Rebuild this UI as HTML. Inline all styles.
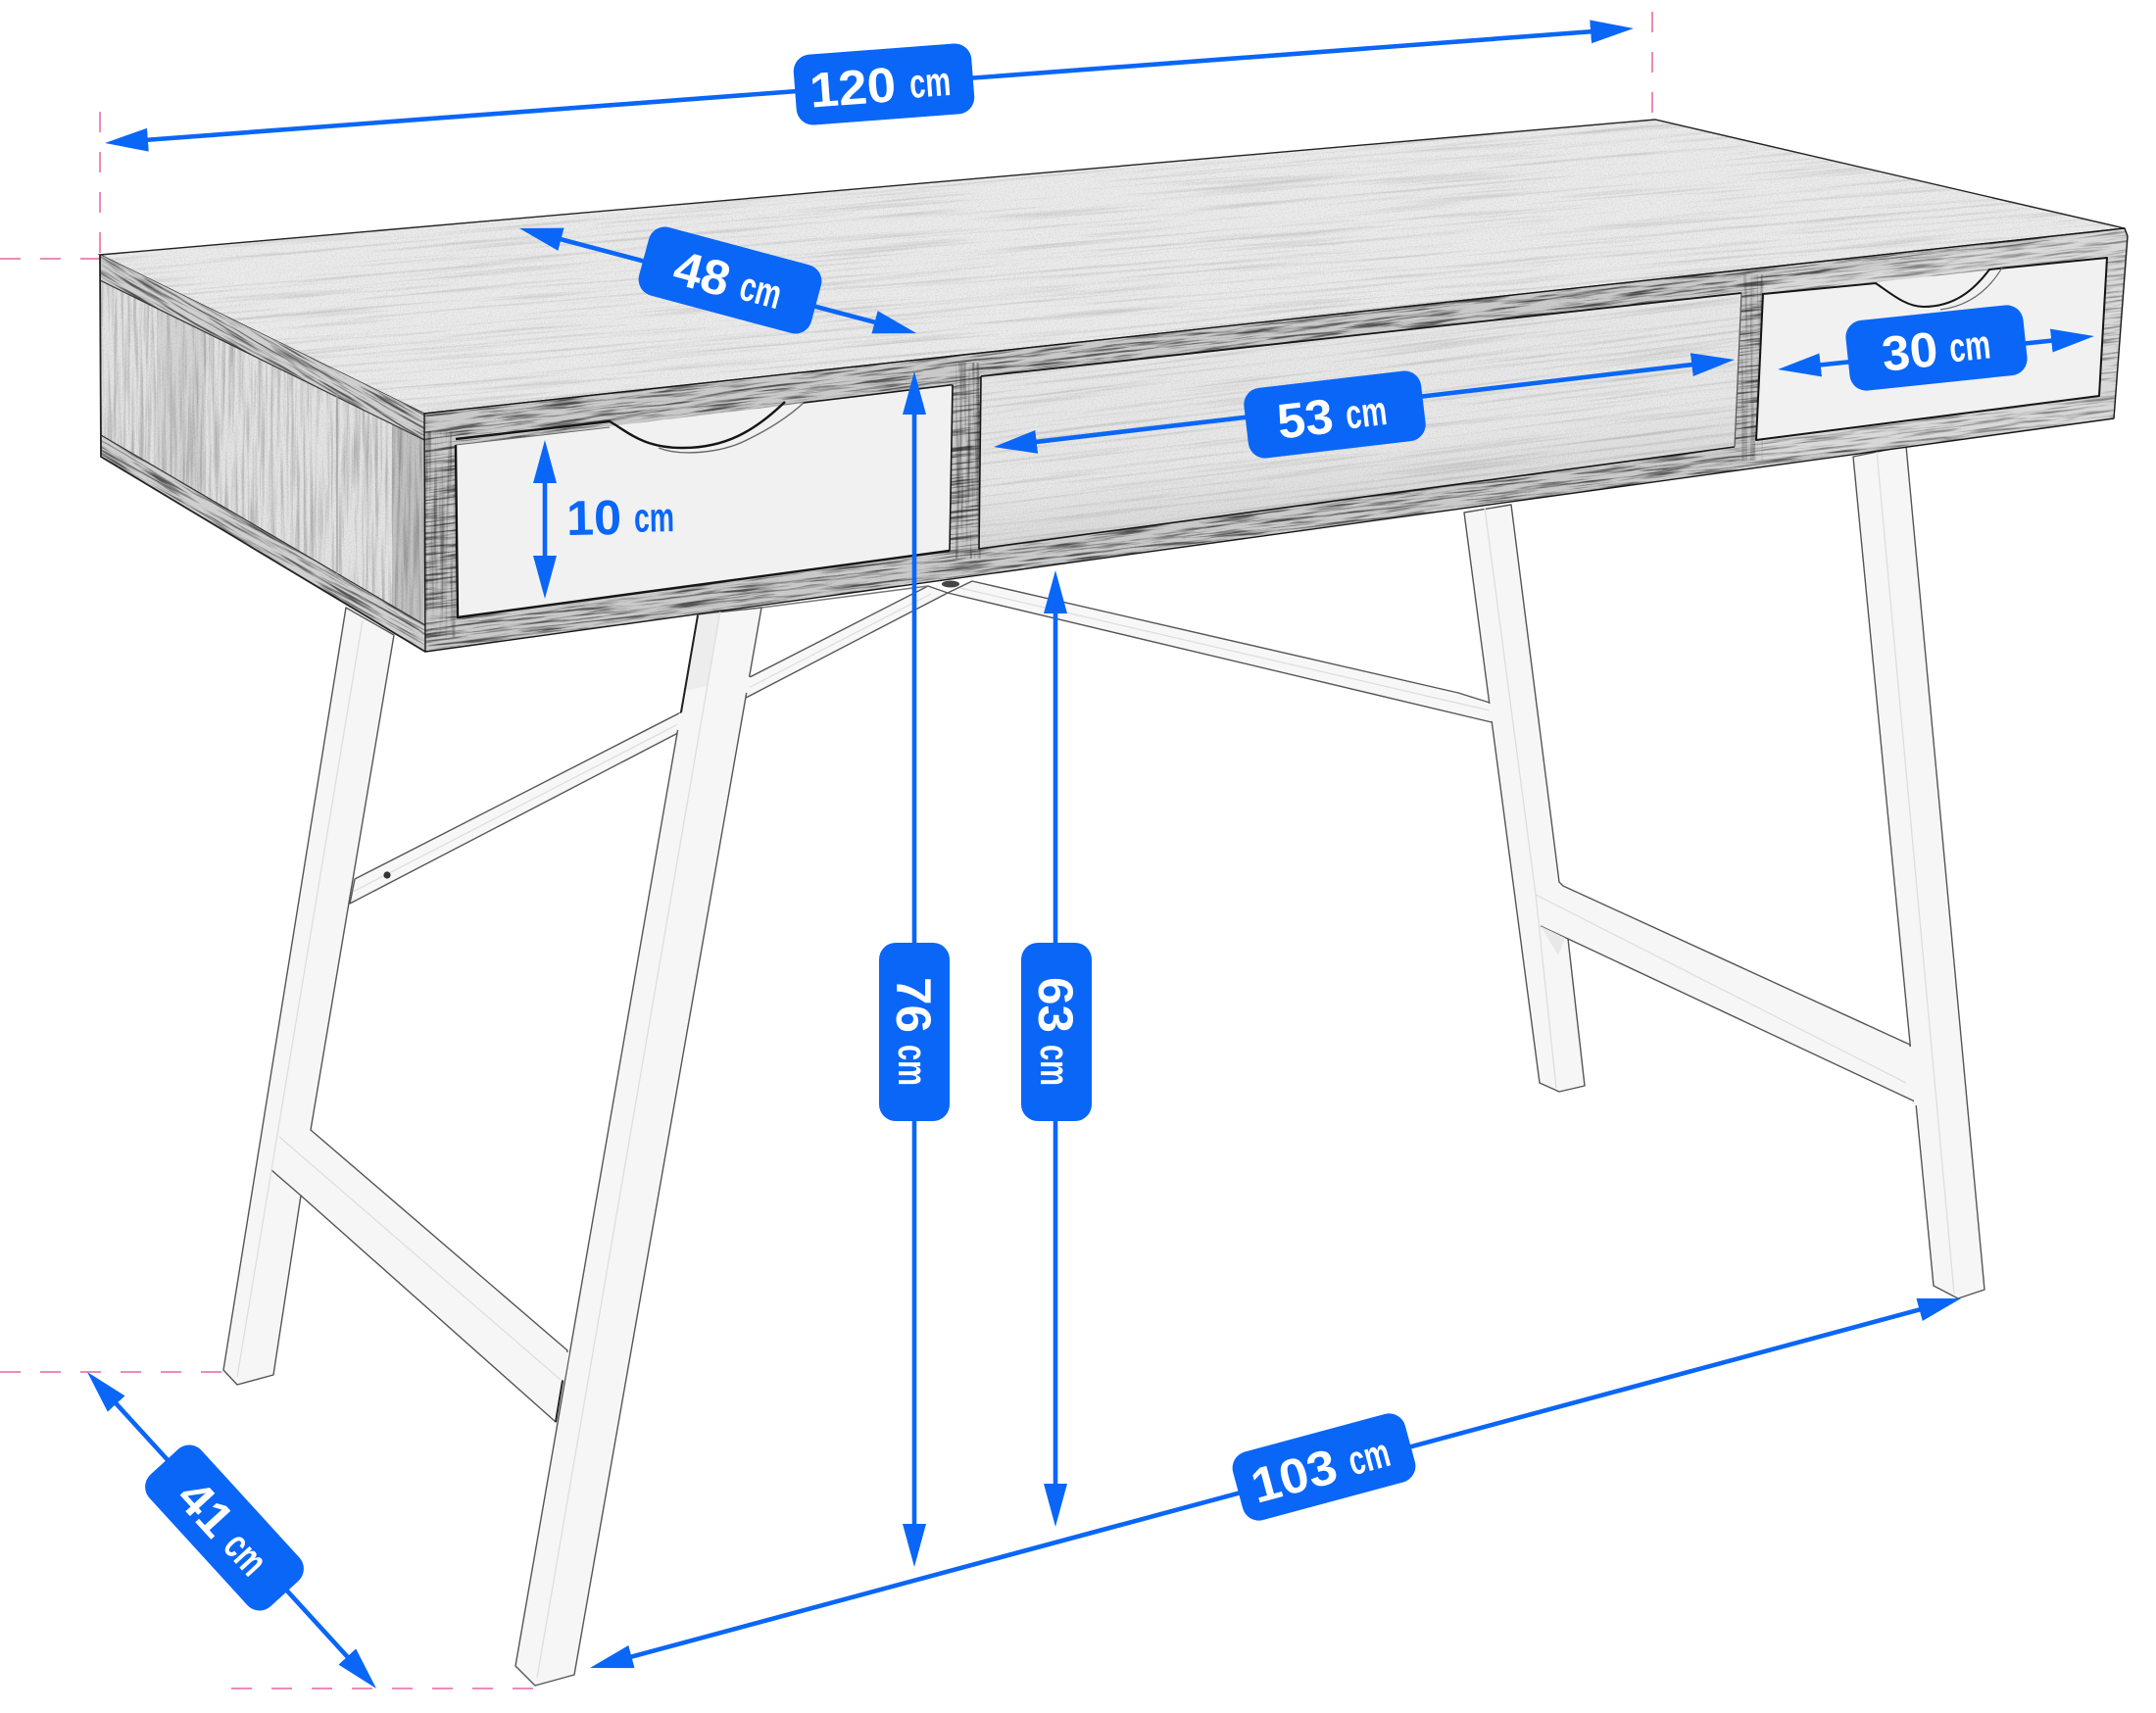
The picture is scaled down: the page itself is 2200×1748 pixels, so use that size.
<!DOCTYPE html>
<html><head><meta charset="utf-8"><title>Desk dimensions</title>
<style>html,body{margin:0;padding:0;background:#fff}svg{display:block}
.n{font-family:"Liberation Sans",sans-serif;font-weight:700;fill:#fff;font-size:50px}
.c{font-family:"Liberation Sans",sans-serif;font-weight:700;fill:#fff;font-size:42px}
</style></head><body>
<svg width="2200" height="1748" viewBox="0 0 2200 1748" xmlns="http://www.w3.org/2000/svg">
<defs>
<filter id="fine" x="0" y="0" width="1" height="1" color-interpolation-filters="sRGB"><feTurbulence type="fractalNoise" baseFrequency=".7" numOctaves="2" seed="4"/><feColorMatrix values="0 0 0 0 0 0 0 0 0 0 0 0 0 0 0 0 0 0 1.4 -.55"/></filter>
<filter id="soft" x="0" y="0" width="1" height="1" color-interpolation-filters="sRGB"><feTurbulence type="fractalNoise" baseFrequency=".005 .3" numOctaves="4" seed="7"/><feColorMatrix values="0 0 0 0 0 0 0 0 0 0 0 0 0 0 0 0 0 0 2.6 -1.3"/></filter>
<filter id="band" x="0" y="0" width="1" height="1" color-interpolation-filters="sRGB"><feTurbulence type="fractalNoise" baseFrequency=".018 .42" numOctaves="4" seed="11"/><feColorMatrix values="0 0 0 0 0 0 0 0 0 0 0 0 0 0 0 0 0 0 3.6 -1.65"/></filter>
<filter id="vert" x="0" y="0" width="1" height="1" color-interpolation-filters="sRGB"><feTurbulence type="fractalNoise" baseFrequency=".3 .01" numOctaves="4" seed="5"/><feColorMatrix values="0 0 0 0 0 0 0 0 0 0 0 0 0 0 0 0 0 0 2.4 -1"/></filter>
<linearGradient id="compShade" x1="0" y1="0" x2="0" y2="1"><stop offset=".55" stop-color="#000" stop-opacity="0"/><stop offset="1" stop-color="#000" stop-opacity=".1"/></linearGradient>
<clipPath id="cTop"><polygon points="102,260 1689,122 2168,233 433,422"/></clipPath>
<clipPath id="cSide"><polygon points="102,286 433,449 434,638 103,444"/></clipPath>
<clipPath id="cSideStrips"><polygon points="102,260 433,422 433,449 102,286"/><polygon points="103,444 434,638 434,665 103,466"/></clipPath>
<clipPath id="cFront"><path clip-rule="evenodd" d="M433,422 L2168,233 L2171,241 L2157,427 L434,665 Z M465,454 L972,393 L969,562 L467,630 Z M1001,384 L1777,299 L1770,456 L999,560 Z M1799,300 L2150,263 L2142,404 L1792,449 Z"/></clipPath>
<clipPath id="cComp"><polygon points="1001,384 1777,299 1770,456 999,560"/></clipPath>
<marker id="h" markerUnits="userSpaceOnUse" markerWidth="48" markerHeight="28" refX="24" refY="12" orient="auto-start-reverse"><polygon points="0,0 44,12 0,24" fill="#0a66f7"/></marker>
</defs>
<rect width="2200" height="1748" fill="#fff"/>

<!-- pink guides -->
<g stroke="#ee8ab8" stroke-width="2" fill="none" stroke-dasharray="21 20">
<line x1="102" y1="114" x2="102" y2="262"/>
<line x1="0" y1="264" x2="102" y2="264"/>
<line x1="1686" y1="12" x2="1686" y2="115"/>
<line x1="0" y1="1400" x2="228" y2="1400"/>
<line x1="236" y1="1723" x2="545" y2="1723"/>
</g>

<!-- cross bars -->
<g fill="#f7f7f7" stroke="#555" stroke-width="1.4" stroke-linejoin="round">
<polygon points="992,593 1488,707 1520,717 1522,737 967,605"/>
<polygon points="947,598 362,897 357,922 967,605"/>
</g>
<g stroke="#ddd" stroke-width="1.2" fill="none">
<line x1="980" y1="600" x2="1520" y2="725"/>
<line x1="950" y1="606" x2="360" y2="910"/>
</g>
<line x1="777" y1="620" x2="947" y2="598" stroke="#777" stroke-width="1.4"/>
<ellipse cx="970" cy="596" rx="9" ry="3.5" fill="#444"/>
<circle cx="395" cy="893" r="3.6" fill="#333"/>

<!-- back-right leg and brace -->
<g fill="#f6f6f6" stroke="#555" stroke-width="1.4" stroke-linejoin="round">
<polygon points="1494,523 1542,515 1591,900 1595,904 1949,1066 1954,1124 1600,958 1617,1108 1591,1114 1571,1105"/>
</g>
<line x1="1572" y1="945" x2="1600" y2="958" stroke="#555" stroke-width="1.4"/>
<polygon points="1572,945 1597,957 1590,975" fill="#e8e8e8"/>
<g stroke="#dedede" stroke-width="1.3" fill="none">
<polyline points="1515,518 1567,913 1945,1105"/>
<line x1="1567" y1="913" x2="1588" y2="1110"/>
</g>
<line x1="1520" y1="718" x2="1522" y2="736" stroke="#f6f6f6" stroke-width="3"/>
<!-- front-right leg -->
<polygon fill="#f6f6f6" stroke="#555" stroke-width="1.4" stroke-linejoin="round" points="1891,466 1945,455 2025,1316 1998,1325 1973,1312"/>
<line x1="1915" y1="460" x2="1994" y2="1320" stroke="#dedede" stroke-width="1.3"/>
<line x1="1949.5" y1="1068" x2="1955.5" y2="1128" stroke="#f6f6f6" stroke-width="4"/>

<!-- left leg and brace -->
<polygon fill="#f6f6f6" stroke="#555" stroke-width="1.4" stroke-linejoin="round" points="353,620 402,648 317,1153 579,1378 567,1451 307,1220 279,1403 242,1413 228,1398"/>
<line x1="277" y1="1194" x2="307" y2="1220" stroke="#555" stroke-width="1.4"/>
<g stroke="#dedede" stroke-width="1.3" fill="none">
<line x1="370" y1="633" x2="242" y2="1405"/>
<line x1="285" y1="1160" x2="572" y2="1408"/>
</g>
<!-- front-left leg -->
<polygon fill="#f6f6f6" stroke="#555" stroke-width="1.4" stroke-linejoin="round" points="712,627 777,620 586,1709 546,1720 526,1700"/>
<line x1="735" y1="623" x2="548" y2="1712" stroke="#dedede" stroke-width="1.3"/>
<polygon fill="#ddd" opacity=".35" points="712,628 735,623 722,700 698,705"/>
<line x1="712" y1="628" x2="695" y2="727" stroke="#222" stroke-width="2"/>
<line x1="695" y1="728" x2="692" y2="745" stroke="#f6f6f6" stroke-width="4"/>
<line x1="765" y1="691" x2="762" y2="707" stroke="#f6f6f6" stroke-width="4"/>
<line x1="579" y1="1380" x2="574" y2="1408" stroke="#f6f6f6" stroke-width="4"/>
<line x1="574" y1="1409" x2="567" y2="1451" stroke="#222" stroke-width="2"/>

<!-- desk top -->
<polygon points="102,260 1689,122 2168,233 433,422" fill="#ececec"/>
<g clip-path="url(#cTop)">
<g transform="rotate(-5 1100 300)"><rect x="0" y="-100" width="2300" height="800" filter="url(#soft)" opacity=".13"/></g>
<rect x="100" y="120" width="2080" height="310" filter="url(#fine)" opacity=".12"/>
</g>
<polygon points="102,260 1689,122 2168,233 433,422" fill="none" stroke="#222" stroke-width="1.4"/>

<!-- side -->
<polygon points="102,260 433,422 434,665 103,466" fill="#e4e4e4"/>
<g clip-path="url(#cSide)">
<rect x="100" y="280" width="340" height="370" filter="url(#vert)" opacity=".22"/>
<rect x="100" y="280" width="340" height="370" filter="url(#fine)" opacity=".12"/>
<rect x="160" y="300" width="50" height="250" fill="#000" opacity=".06"/>
<rect x="400" y="430" width="34" height="220" fill="#000" opacity=".14"/>
</g>
<g clip-path="url(#cSideStrips)">
<polygon points="102,260 433,422 434,665 103,466" fill="#cfcfcf"/>
<g transform="rotate(30 268 460)"><rect x="-50" y="100" width="640" height="700" filter="url(#band)" opacity=".6"/></g>
</g>
<g stroke="#333" stroke-width="1.2" fill="none">
<line x1="102" y1="286" x2="433" y2="449"/>
<line x1="103" y1="444" x2="434" y2="638"/>
<line x1="344" y1="400" x2="344" y2="590" stroke="#999"/>
</g>
<polyline points="102,260 103,466 434,665" fill="none" stroke="#222" stroke-width="1.8"/>

<!-- front face -->
<polygon points="465,454 972,393 969,562 467,630" fill="#f1f1f1"/>
<polygon points="1799,300 2150,263 2142,404 1792,449" fill="#f1f1f1"/>
<polygon points="1001,384 1777,299 1770,456 999,560" fill="#e9e9e9"/>
<g clip-path="url(#cComp)">
<g transform="rotate(-7 1400 450)"><rect x="900" y="250" width="1000" height="420" filter="url(#soft)" opacity=".13"/></g>
<rect x="990" y="290" width="800" height="280" filter="url(#fine)" opacity=".12"/>
<g transform="rotate(-7 1400 450)"><rect x="900" y="330" width="1000" height="220" fill="url(#compShade)"/></g>
</g>
<g clip-path="url(#cFront)">
<polygon points="433,422 2168,233 2171,241 2157,427 434,665" fill="#c9c9c9"/>
<g transform="rotate(-6.8 1300 450)"><rect x="380" y="100" width="1850" height="700" filter="url(#band)" opacity=".6"/></g>
<rect x="433" y="440" width="32" height="210" filter="url(#vert)" opacity=".4"/>
<rect x="975" y="370" width="26" height="200" filter="url(#vert)" opacity=".5"/>
<rect x="1777" y="280" width="22" height="190" filter="url(#vert)" opacity=".3"/>
<polygon points="1800,290 2168,233 2171,241 2157,427 1790,470" fill="#fff" opacity=".3"/>
</g>
<g fill="none" stroke="#151515" stroke-linejoin="round">
<polygon points="433,422 2168,233 2171,241 2157,427 434,665" stroke-width="1.4"/>
<path d="M465,448 L622,430 C640,440 655,457 697,457 C740,457 770,440 801,410" stroke-width="2.4"/>
<path d="M672,457 C695,466 735,462 760,450 C785,438 805,425 820,411" stroke-width="1.4" stroke="#666"/>
<polyline points="820,411 969,393 972,393 969,562" stroke-width="1.6"/>
<polyline points="465,454 467,630 969,562" stroke-width="2.4"/>
<line x1="465" y1="454" x2="622" y2="436" stroke-width="1" stroke="#666"/>
<polyline points="1001,384 1777,299" stroke-width="1.8"/>
<polyline points="1001,384 999,560 1770,456" stroke-width="1.6"/>
<line x1="1777" y1="299" x2="1770" y2="456" stroke-width="1.2" stroke="#555"/>
<path d="M1799,300 L1914,289 C1930,300 1945,313 1963,313 C1995,313 2015,295 2030,275 L2150,263 L2142,404 L1792,449 Z" stroke-width="2"/>
<path d="M2043,273 C2030,295 2010,312 1980,316" stroke-width="1.2" stroke="#666"/>
</g>

<!-- dimension lines -->
<g stroke="#0a66f7" stroke-width="4.6" fill="none">
<line x1="127" y1="144.5" x2="1647" y2="30.5" marker-start="url(#h)" marker-end="url(#h)"/>
<line x1="549.3" y1="238.1" x2="915.7" y2="334.9" marker-start="url(#h)" marker-end="url(#h)"/>
<line x1="556" y1="469" x2="556" y2="591" marker-start="url(#h)" marker-end="url(#h)"/>
<line x1="1033.9" y1="453.7" x2="1750.1" y2="369.3" marker-start="url(#h)" marker-end="url(#h)"/>
<line x1="1833.9" y1="374.9" x2="2117.1" y2="345.1" marker-start="url(#h)" marker-end="url(#h)"/>
<line x1="933" y1="399" x2="933" y2="1579" marker-start="url(#h)" marker-end="url(#h)"/>
<line x1="1077" y1="602" x2="1077" y2="1538" marker-start="url(#h)" marker-end="url(#h)"/>
<line x1="102.5" y1="1414.8" x2="370.5" y2="1708.2" marker-start="url(#h)" marker-end="url(#h)"/>
<line x1="621.3" y1="1696.8" x2="1981.7" y2="1330.2" marker-start="url(#h)" marker-end="url(#h)"/>
</g>

<!-- labels -->
<g transform="translate(902,86) rotate(-4.3)"><rect x="-91" y="-36" width="182" height="72" rx="17" fill="#0a66f7"/><text class="n" x="-76" y="18" textLength="88" lengthAdjust="spacingAndGlyphs">120</text><text class="c" x="26" y="16" textLength="42" lengthAdjust="spacingAndGlyphs">cm</text></g>
<g transform="translate(745,286) rotate(15)"><rect x="-91" y="-36" width="182" height="72" rx="17" fill="#0a66f7"/><text class="n" x="-58" y="18" textLength="57" lengthAdjust="spacingAndGlyphs">48</text><text class="c" x="12" y="16" textLength="42" lengthAdjust="spacingAndGlyphs">cm</text></g>
<g transform="translate(1362,423) rotate(-6.7)"><rect x="-91" y="-36" width="182" height="72" rx="17" fill="#0a66f7"/><text class="n" x="-59" y="18" textLength="57" lengthAdjust="spacingAndGlyphs">53</text><text class="c" x="11" y="16" textLength="42" lengthAdjust="spacingAndGlyphs">cm</text></g>
<g transform="translate(1976,355) rotate(-6)"><rect x="-91" y="-36" width="182" height="72" rx="17" fill="#0a66f7"/><text class="n" x="-56" y="18" textLength="57" lengthAdjust="spacingAndGlyphs">30</text><text class="c" x="13" y="16" textLength="42" lengthAdjust="spacingAndGlyphs">cm</text></g>
<g transform="translate(933,1053) rotate(90)"><rect x="-91" y="-36" width="182" height="72" rx="17" fill="#0a66f7"/><text class="n" x="-56" y="18" textLength="57" lengthAdjust="spacingAndGlyphs">76</text><text class="c" x="13" y="16" textLength="42" lengthAdjust="spacingAndGlyphs">cm</text></g>
<g transform="translate(1078,1053) rotate(90)"><rect x="-91" y="-36" width="182" height="72" rx="17" fill="#0a66f7"/><text class="n" x="-56" y="18" textLength="57" lengthAdjust="spacingAndGlyphs">63</text><text class="c" x="13" y="16" textLength="42" lengthAdjust="spacingAndGlyphs">cm</text></g>
<g transform="translate(229,1559) rotate(47.6)"><rect x="-91" y="-36" width="182" height="72" rx="17" fill="#0a66f7"/><text class="n" x="-56" y="18" textLength="57" lengthAdjust="spacingAndGlyphs">41</text><text class="c" x="13" y="16" textLength="42" lengthAdjust="spacingAndGlyphs">cm</text></g>
<g transform="translate(1351,1497) rotate(-15.1)"><rect x="-91" y="-36" width="182" height="72" rx="17" fill="#0a66f7"/><text class="n" x="-76" y="18" textLength="88" lengthAdjust="spacingAndGlyphs">103</text><text class="c" x="26" y="16" textLength="42" lengthAdjust="spacingAndGlyphs">cm</text></g>
<g transform="translate(634,527) rotate(-1)" style="font-family:'Liberation Sans',sans-serif;font-weight:700;fill:#0a66f7"><text x="-56" y="18" font-size="50" textLength="56" lengthAdjust="spacingAndGlyphs">10</text><text x="13" y="16" font-size="42" textLength="41" lengthAdjust="spacingAndGlyphs">cm</text></g>
</svg>
</body></html>
